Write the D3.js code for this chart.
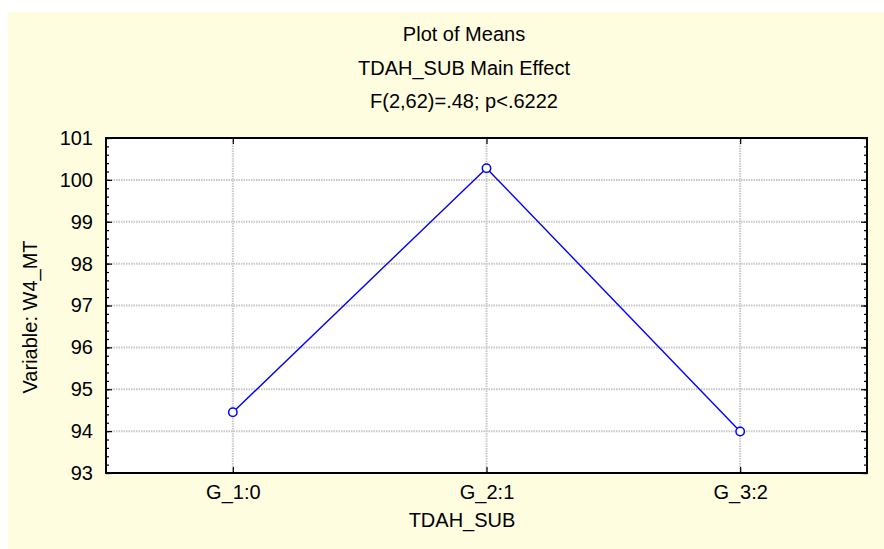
<!DOCTYPE html>
<html><head><meta charset="utf-8">
<script src="https://cdn.jsdelivr.net/npm/d3@7"></script>
<style>
html,body{margin:0;padding:0;background:#fff;}
svg{display:block;font-family:"Liberation Sans",Arial,sans-serif;}
</style></head>
<body>
<svg id="chart" width="884" height="549"></svg>
<script>
const categories = ["G_1:0", "G_2:1", "G_3:2"];
const means = [94.45, 100.28, 93.99];
const yTicks = [93, 94, 95, 96, 97, 98, 99, 100, 101];
const titles = ["Plot of Means", "TDAH_SUB Main Effect", "F(2,62)=.48; p<.6222"];
const xLabel = "TDAH_SUB";
const yLabel = "Variable: W4_MT";

const svg = d3.select("#chart");
const W = 884, H = 549;
const m = {left: 106, right: 17, top: 138, bottom: 76};
const pw = W - m.left - m.right, ph = H - m.top - m.bottom;
const FS = 20;

svg.append("rect").attr("x", 8).attr("y", 12).attr("width", W - 8).attr("height", H - 12).attr("fill", "#fefde0");

const x = d3.scalePoint().domain(categories).range([m.left, m.left + pw]).padding(0.5);
const y = d3.scaleLinear().domain([93, 101]).range([m.top + ph, m.top]);

svg.append("rect").attr("x", m.left).attr("y", m.top).attr("width", pw).attr("height", ph).attr("fill", "#fff");

// grid
const g = svg.append("g");
g.selectAll("line.hg").data(yTicks.slice(1, -1)).join("line")
  .attr("x1", m.left).attr("x2", m.left + pw)
  .attr("y1", d => y(d)).attr("y2", d => y(d))
  .attr("stroke", "#c8c8c8").attr("stroke-width", 2).attr("stroke-dasharray", "1.5,1");
g.selectAll("line.vg").data(categories).join("line")
  .attr("y1", m.top).attr("y2", m.top + ph)
  .attr("x1", d => x(d)).attr("x2", d => x(d))
  .attr("stroke", "#c8c8c8").attr("stroke-width", 2).attr("stroke-dasharray", "1.5,1");

// minor ticks
const minor = d3.range(93, 101.001, 0.2);
function tickAxis(axis, tx, ty, vals, size) {
  svg.append("g").attr("transform", `translate(${tx},${ty})`)
    .call(axis.tickValues(vals).tickSize(size).tickFormat(""))
    .call(s => s.select(".domain").remove())
    .selectAll("line").attr("stroke", "#000").attr("stroke-width", 1.2);
}
tickAxis(d3.axisRight(y), m.left, 0, minor, 3);
tickAxis(d3.axisLeft(y), m.left + pw, 0, minor, 3);
tickAxis(d3.axisRight(y), m.left, 0, yTicks, 6);
tickAxis(d3.axisLeft(y), m.left + pw, 0, yTicks, 6);
tickAxis(d3.axisTop(x), 0, m.top + ph, categories, 6);
tickAxis(d3.axisBottom(x), 0, m.top, categories, 6);

// y labels
const yl = svg.append("g").attr("transform", `translate(${m.left},0)`)
  .call(d3.axisLeft(y).tickValues(yTicks).tickSize(0).tickPadding(13).tickFormat(d3.format("d")));
yl.select(".domain").remove();
yl.selectAll("text").attr("font-size", FS).attr("fill", "#000").attr("font-family", "Liberation Sans, Arial, sans-serif");

// x labels
const xl = svg.append("g").attr("transform", `translate(0,${m.top + ph})`)
  .call(d3.axisBottom(x).tickSize(0).tickPadding(12));
xl.select(".domain").remove();
xl.selectAll("text").attr("font-size", FS).attr("fill", "#000").attr("font-family", "Liberation Sans, Arial, sans-serif");

// frame
svg.append("rect").attr("x", m.left).attr("y", m.top).attr("width", pw).attr("height", ph)
  .attr("fill", "none").attr("stroke", "#000").attr("stroke-width", 2);

// line
const line = d3.line().x((d, i) => x(categories[i])).y(d => y(d));
svg.append("path").datum(means).attr("d", line).attr("fill", "none")
  .attr("stroke", "#0000ff").attr("stroke-width", 1.4);
svg.selectAll("circle.pt").data(means).join("circle")
  .attr("cx", (d, i) => x(categories[i])).attr("cy", d => y(d)).attr("r", 4.2)
  .attr("fill", "#fff").attr("stroke", "#0000ff").attr("stroke-width", 1.5);

// titles (centred on the whole graph window, not on the plot)
svg.selectAll("text.title").data(titles).join("text")
  .attr("x", 464).attr("y", (d, i) => 41 + i * 33.5)
  .attr("text-anchor", "middle").attr("font-size", FS).attr("fill", "#000").text(d => d);

svg.append("text").attr("x", 462).attr("y", 527).attr("text-anchor", "middle")
  .attr("font-size", FS).attr("fill", "#000").text(xLabel);
svg.append("text").attr("transform", `translate(37,317) rotate(-90)`)
  .attr("text-anchor", "middle").attr("font-size", FS).attr("fill", "#000").text(yLabel);
</script>
</body></html>
